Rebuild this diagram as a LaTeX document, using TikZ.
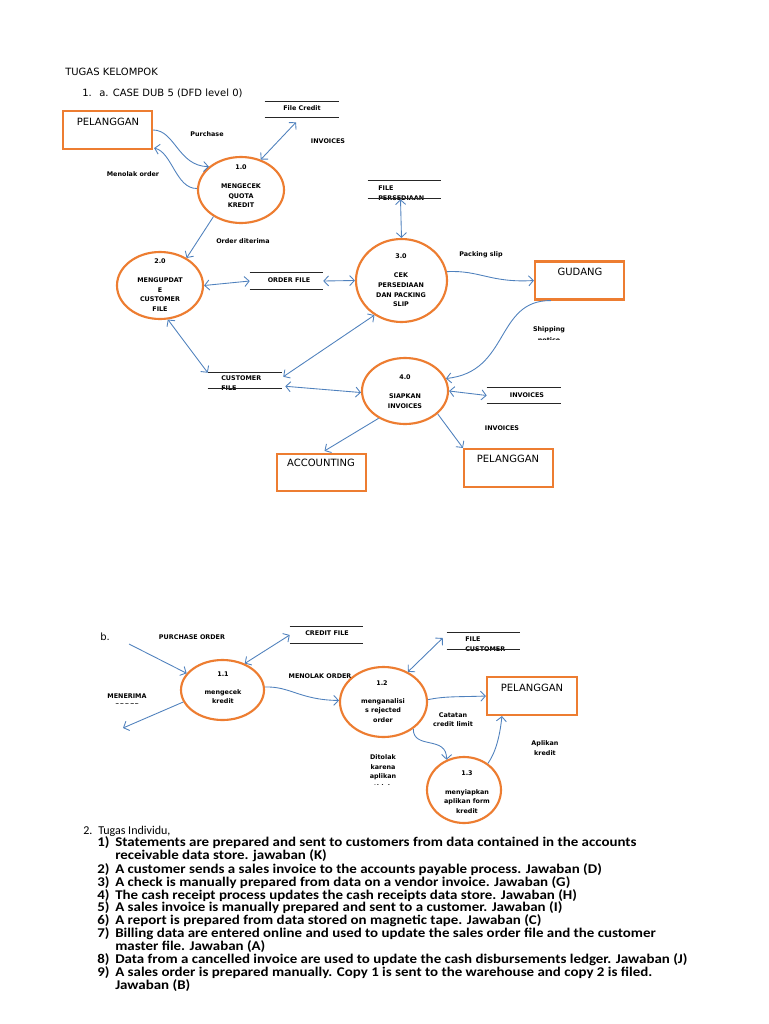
\documentclass[tikz,border=0pt]{standalone}
\usepackage{fontspec}
\setmainfont{DejaVu Sans}
\newfontfamily\dvs{DejaVu Sans}
\newfontfamily\carl{Carlito}
\newfontfamily\carlw{Carlito}[FakeStretch=1.12]
\usetikzlibrary{shapes.geometric,arrows.meta,calc}
\definecolor{orgc}{RGB}{237,125,49}
\definecolor{bluc}{RGB}{79,129,189}
\begin{document}
\begin{tikzpicture}[x=0.75pt,y=-0.75pt,
  proc/.style={ellipse, draw=orgc, line width=1.6pt, inner sep=0pt},
  ent/.style={rectangle, draw=orgc, line width=1.6pt, inner sep=0pt, minimum width=66.75pt, minimum height=28.5pt},
  dstore/.style={rectangle, inner sep=0pt, minimum width=55pt},
  sline/.style={draw=black!85, line width=0.75pt},
  lbl/.style={font=\dvs\bfseries\fontsize{4.8}{7.2}\selectfont, inner sep=0pt, align=center},
  big/.style={font=\dvs\fontsize{7.5}{9}\selectfont, inner sep=0pt},
  flow/.style={draw=bluc, line width=0.65pt, -{Straight Barb[length=3.5pt,width=7.5pt]}},
  bflow/.style={draw=bluc, line width=0.65pt, {Straight Barb[length=3.5pt,width=7.5pt]}-{Straight Barb[length=3.5pt,width=7.5pt]}},
  itm/.style={font=\carlw\bfseries\fontsize{10}{12}\selectfont, inner sep=0pt, anchor=base west},
  reg/.style={font=\carl\fontsize{9}{11}\selectfont, inner sep=0pt, anchor=base west},
]
\fill[white] (0,0) rectangle (768,1024);
\useasboundingbox (0,0) rectangle (768,1024);

% titles
\node[big, anchor=base west] (t1) at (65,75) {TUGAS KELOMPOK};
\node[big, anchor=base west] (t2) at (82,97) {1.};
\node[big, anchor=base west] (t3) at (99,97) {a. CASE DUB 5 (DFD level 0)};

% entities
\node[ent] (p1) at (107.5,130) {};
\node[big] (p1t) at (108,122) {PELANGGAN};
\node[ent] (pg) at (579.5,280.5) {};
\node[big] (pgt) at (580,272) {GUDANG};
\node[ent, minimum height=27.75pt] (pa) at (321.5,472.5) {};
\node[big] (pat) at (321,463) {ACCOUNTING};
\node[ent] (pb) at (508.5,468) {};
\node[big] (pbt) at (508,459) {PELANGGAN};
\node[ent, minimum width=67.5pt] (pb2) at (532,696) {};
\node[big] (pb2t) at (532,688) {PELANGGAN};

% processes
\node[proc, minimum width=64.5pt, minimum height=49.5pt] (n10) at (241,190) {};
\node[lbl] (n10a) at (241,167) {1.0};
\node[lbl] (n10b) at (241,196) {MENGECEK\\QUOTA\\KREDIT};
\node[proc, minimum width=64.5pt, minimum height=50.25pt] (n20) at (160,285.5) {};
\node[lbl] (n20a) at (160,261) {2.0};
\node[lbl] (n20b) at (160,294.5) {MENGUPDAT\\E\\CUSTOMER\\FILE};
\node[proc, minimum width=68.25pt, minimum height=62.25pt] (n30) at (401.5,280.5) {};
\node[lbl] (n30a) at (401,256) {3.0};
\node[lbl] (n30b) at (401,290) {CEK\\PERSEDIAAN\\DAN PACKING\\SLIP};
\node[proc, minimum width=64.5pt, minimum height=49.5pt] (n40) at (405,391) {};
\node[lbl] (n40a) at (405,377) {4.0};
\node[lbl] (n40b) at (405,401) {SIAPKAN\\INVOICES};
\node[proc, minimum width=62.25pt, minimum height=45pt] (n11) at (222.5,690) {};
\node[lbl] (n11a) at (223,674) {1.1};
\node[lbl] (n11b) at (223,696.5) {mengecek\\kredit};
\node[proc, minimum width=65.25pt, minimum height=52.5pt] (n12) at (383.5,702) {};
\node[lbl] (n12a) at (382,683) {1.2};
\node[lbl] (n12b) at (383,710.5) {menganalisi\\s rejected\\order};
\node[proc, minimum width=55.5pt, minimum height=49.5pt] (n13) at (464,790) {};
\node[lbl] (n13a) at (467,773) {1.3};
\node[lbl] (n13b) at (467,801.5) {menyiapkan\\aplikan form\\kredit};

% data stores
\node[dstore, minimum width=55.5pt, minimum height=11.25pt] (sc) at (302,109.5) {};
\node[lbl] (sct) at (302,108) {File Credit};
\node[dstore, minimum width=54.75pt, minimum height=12pt] (so) at (286.5,281) {};
\node[lbl] (sot) at (289,280) {ORDER FILE};
\node[dstore, minimum width=54.75pt, minimum height=12.75pt] (sp) at (404.5,189.5) {};
\node[lbl, align=left, anchor=west] (spt) at (378,193.5) {FILE\\PERSEDIAAN};
\node[dstore, minimum width=55.5pt, minimum height=11.25pt] (scf) at (245,380.5) {};
\node[lbl, align=left, anchor=west] (scft) at (221,383) {CUSTOMER\\FILE};
\node[dstore, minimum width=55.5pt, minimum height=11.25pt] (si) at (524,395.5) {};
\node[lbl] (sit) at (527,395) {INVOICES};
\node[dstore, minimum width=54.75pt, minimum height=12pt] (sccf) at (326.5,635) {};
\node[lbl] (sccft) at (327,633) {CREDIT FILE};
\node[dstore, minimum width=54.75pt, minimum height=12pt] (scu) at (483.5,641) {};
\node[lbl, align=left, anchor=west] (scut) at (465,644.5) {FILE\\CUSTOMER};
\foreach \s in {sc,so,sp,scf,si,sccf,scu}
  \draw[sline] (\s.north west) -- (\s.north east) (\s.south west) -- (\s.south east);

% flow labels part a
\node[lbl] (lpur) at (207,134) {Purchase};
\node[lbl] (lmen) at (133,174) {Menolak order};
\node[lbl] (linv1) at (328,141) {INVOICES};
\node[lbl] (lord) at (243,241) {Order diterima};
\node[lbl] (lpack) at (481,255) {Packing slip};
\node[lbl] (lship) at (549,330) {Shipping};
\begin{scope}
  \clip (520,334) rectangle (580,339.5);
  \node[lbl] (lnot) at (549,339.8) {notice};
\end{scope}
\node[lbl] (linv2) at (502,428) {INVOICES};

% flows part a
\draw[flow] (p1.east) .. controls (175,130) and (178,166) .. (n10.144);
\draw[flow] (n10.178) .. controls (176,189) and (172,152) .. ($(p1.south east)+(1,-2)$);
\draw[bflow] (n10.57) -- ($(sc.south)+(-6,5)$);
\draw[flow] (n10.-136) -- (n20.46);
\draw[bflow] (n20.east) -- (so.west);
\draw[bflow] (so.east) -- (n30.west);
\draw[bflow] ($(sp.south)+(-4,1)$) -- (n30.north);
\draw[flow] (n30.11) .. controls (480,270) and (490,283) .. (pg.west);
\draw[flow] ($(pg.south west)+(17,0)$) .. controls (495,300) and (510,372) .. (n40.17);
\draw[bflow] (n20.-77) -- (scf.north west);
\draw[bflow] ($(scf.north east)+(1,4)$) -- (n30.-128);
\draw[bflow] ($(scf.south east)+(3,-2)$) -- (n40.182);
\draw[bflow] (n40.east) -- (si.west);
\draw[flow] (n40.-134) -- ($(pa.north)+(3,-2)$);
\draw[flow] (n40.-35) -- (pb.north west);

% part b labels
\node[big, anchor=west] (lb) at (100,637) {b.};
\node[lbl] (lpo) at (192,637) {PURCHASE ORDER};
\node[lbl] (lmener) at (127,696) {MENERIMA};
\begin{scope}
  \clip (100,700) rectangle (160,703.2);
  \node[lbl] (lmord) at (127,705.8) {ORDER};
\end{scope}
\node[lbl] (lmo) at (320,676) {MENOLAK ORDER};
\node[lbl] (lcat) at (453,719.5) {Catatan\\credit limit};
\node[lbl] (lapl) at (545,748) {Aplikan\\kredit};
\node[lbl] (ldit) at (383,767.5) {Ditolak\\karena\\aplikan};
\begin{scope}
  \clip (360,780) rectangle (410,784.2);
  \node[lbl] (ltid) at (383,787) {tidak};
\end{scope}

% flows part b
\coordinate (po) at (129,644);
\coordinate (mo) at (123,728);
\draw[flow] (po) -- (n11.155);
\draw[bflow] (n11.50) -- (sccf.west);
\draw[flow] (n11.-163) -- (mo);
\draw[flow] (n11.4) .. controls (290,686) and (300,700) .. (n12.178);
\draw[bflow] (n12.51) -- ($(scu.west)+(-4,-3)$);
\draw[flow] (n12.3) .. controls (445,696) and (460,697) .. (pb2.west);
\draw[flow] (n12.-42) .. controls (413,750) and (447,735) .. (n13.120);
\draw[flow] (n13.48) .. controls (496,752) and (500,735) .. ($(pb2.south west)+(16,0)$);

% part 2 text
\node[reg] (s2a) at (83,834) {2.};
\node[reg] (s2b) at (98,834) {Tugas Individu,};
\node[itm] (i1n) at (97,846) {1)};
\node[itm] (i1) at (115,846) {Statements are prepared and sent to customers from data contained in the accounts};
\node[itm] (i1c) at (115,859) {receivable data store. jawaban (K)};
\node[itm] (i2n) at (97,873) {2)};
\node[itm] (i2) at (115,873) {A customer sends a sales invoice to the accounts payable process. Jawaban (D)};
\node[itm] (i3n) at (97,886) {3)};
\node[itm] (i3) at (115,886) {A check is manually prepared from data on a vendor invoice. Jawaban (G)};
\node[itm] (i4n) at (97,899) {4)};
\node[itm] (i4) at (115,899) {The cash receipt process updates the cash receipts data store. Jawaban (H)};
\node[itm] (i5n) at (97,911) {5)};
\node[itm] (i5) at (115,911) {A sales invoice is manually prepared and sent to a customer. Jawaban (I)};
\node[itm] (i6n) at (97,924) {6)};
\node[itm] (i6) at (115,924) {A report is prepared from data stored on magnetic tape. Jawaban (C)};
\node[itm] (i7n) at (97,937) {7)};
\node[itm] (i7) at (115,937) {Billing data are entered online and used to update the sales order file and the customer};
\node[itm] (i7c) at (115,950) {master file. Jawaban (A)};
\node[itm] (i8n) at (97,963) {8)};
\node[itm] (i8) at (115,963) {Data from a cancelled invoice are used to update the cash disbursements ledger. Jawaban (J)};
\node[itm] (i9n) at (97,976) {9)};
\node[itm] (i9) at (115,976) {A sales order is prepared manually. Copy 1 is sent to the warehouse and copy 2 is filed.};
\node[itm] (i9c) at (115,989) {Jawaban (B)};
\end{tikzpicture}
\end{document}
